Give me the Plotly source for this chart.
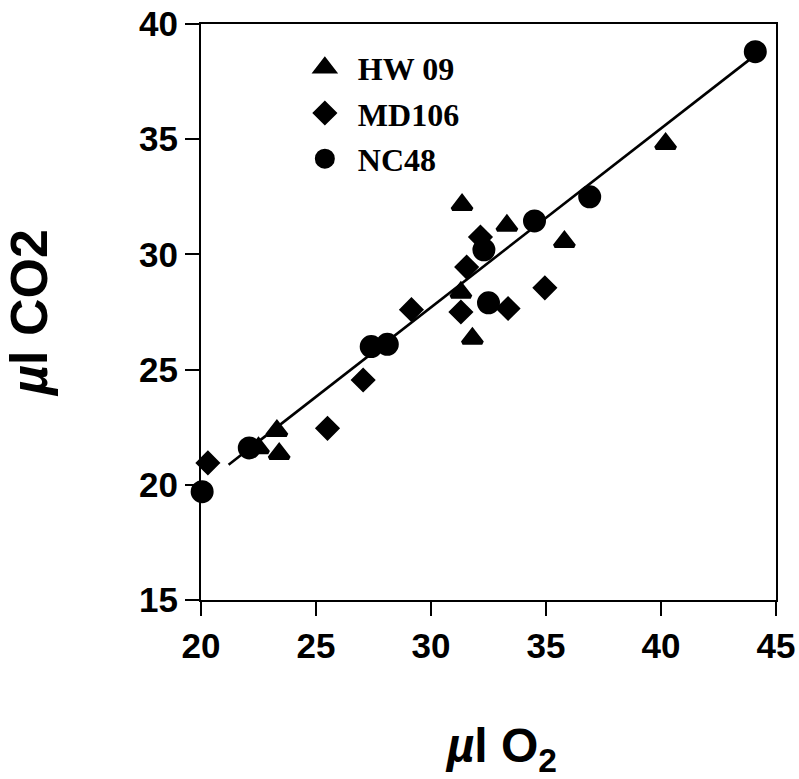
import plotly.graph_objects as go

# ---- data ----
hw09_o2 = [22.5, 23.3, 23.4, 31.3, 31.8, 31.35, 33.3, 35.8, 40.2]
hw09_co2 = [21.6, 22.35, 21.35, 28.35, 26.35, 32.15, 31.25, 30.55, 34.8]

md106_o2 = [20.3, 25.5, 27.05, 29.15, 31.3, 31.55, 32.15, 33.35, 34.95]
md106_co2 = [20.95, 22.45, 24.55, 27.6, 27.5, 29.45, 30.75, 27.65, 28.55]

nc48_o2 = [20.05, 22.1, 27.4, 28.1, 32.3, 32.5, 34.5, 36.9, 44.1]
nc48_co2 = [19.7, 21.6, 26.0, 26.1, 30.2, 27.9, 31.45, 32.5, 38.8]

fit_o2 = [21.2, 44.1]
fit_co2 = [20.87, 38.65]

x_ticks = [20, 25, 30, 35, 40, 45]
y_ticks = [15, 20, 25, 30, 35, 40]

fig = go.Figure()

fig.add_trace(go.Scatter(x=fit_o2, y=fit_co2, mode="lines",
                         line=dict(color="black", width=2.6),
                         showlegend=False, hoverinfo="skip", cliponaxis=False))

series = [
    ("HW 09", hw09_o2, hw09_co2, "triangle-up", 17),
    ("MD106", md106_o2, md106_co2, "diamond", 15),
    ("NC48", nc48_o2, nc48_co2, "circle", 19),
]
for name, xs, ys, sym, sz in series:
    fig.add_trace(go.Scatter(
        x=xs, y=ys, mode="markers", name=name, legendgroup=name,
        marker=dict(symbol=sym, size=sz, color="black",
                    line=dict(color="black", width=4)),
        cliponaxis=False))

tick_font = dict(family="Liberation Sans, Arial, sans-serif", size=35,
                 color="black", weight="bold")

fig.update_layout(
    width=799, height=779,
    margin=dict(l=201, r=23, t=24, b=179),
    paper_bgcolor="white", plot_bgcolor="white",
    showlegend=True,
    legend=dict(x=0.158, y=0.972, xanchor="left", yanchor="top",
                bgcolor="rgba(0,0,0,0)", tracegroupgap=1, itemwidth=56,
                font=dict(family="Liberation Serif, Times New Roman, serif",
                          size=32, color="black", weight="bold")),
    xaxis=dict(range=[20, 45], tickvals=x_ticks, ticktext=[str(v) for v in x_ticks],
               showgrid=False, zeroline=False, showline=True, linecolor="black",
               linewidth=2, mirror=True, ticks="outside", ticklen=14, tickwidth=2,
               tickcolor="black", tickfont=tick_font, automargin=False,
               title=dict(text="&nbsp;&nbsp;<i>µ</i>l O<sub>2</sub>", standoff=66,
                          font=dict(family="Liberation Sans, Arial, sans-serif",
                                    size=48, color="black", weight="bold"))),
    yaxis=dict(range=[15, 40], tickvals=y_ticks, ticktext=[str(v) for v in y_ticks],
               showgrid=False, zeroline=False, showline=True, linecolor="black",
               linewidth=2, mirror=True, ticks="outside", ticklen=14, tickwidth=2,
               tickcolor="black", tickfont=tick_font, automargin=False,
               title=dict(text="<i>µ</i>l CO2", standoff=84,
                          font=dict(family="Liberation Sans, Arial, sans-serif",
                                    size=52, color="black", weight="bold"))),
)

fig.write_html("out.html", config={"displayModeBar": False},
               post_script="document.body.style.margin='0px';document.body.style.overflow='hidden';")
